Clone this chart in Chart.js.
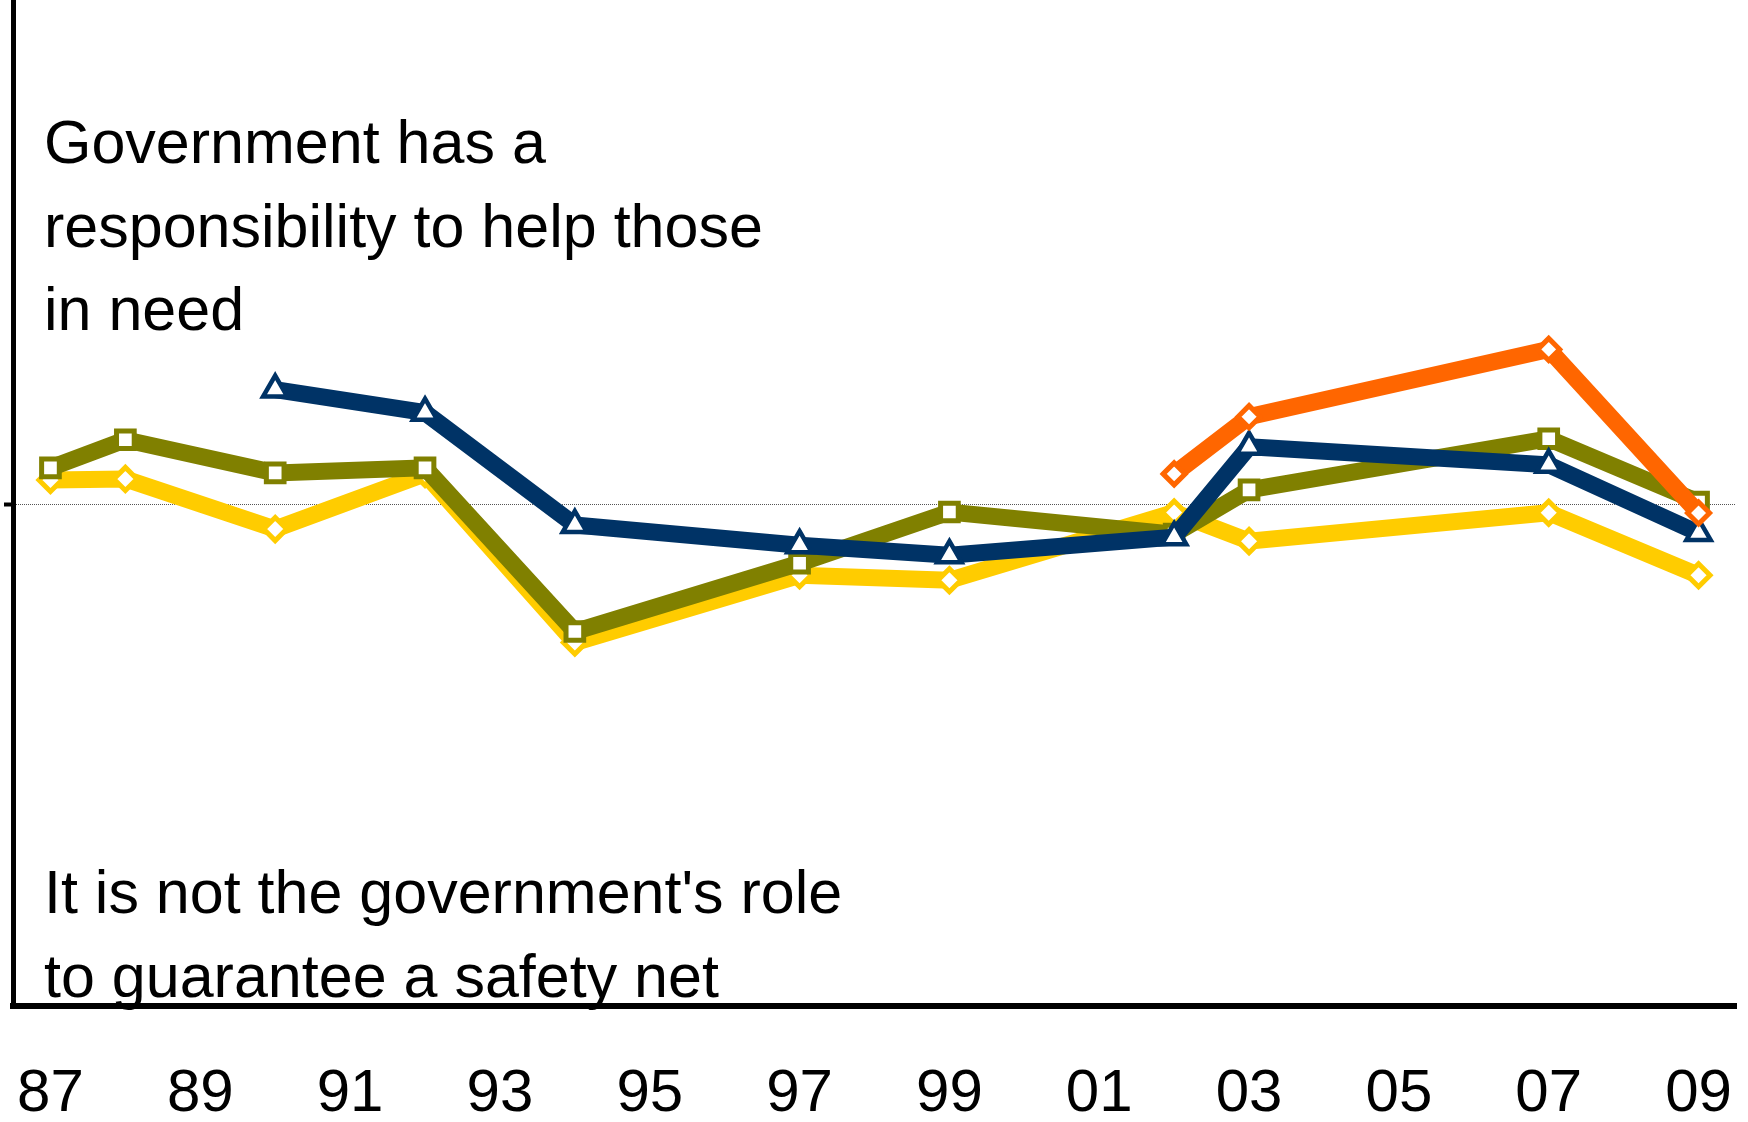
<!DOCTYPE html>
<html>
<head>
<meta charset="utf-8">
<script src="https://cdn.jsdelivr.net/npm/chart.js@4.4.1/dist/chart.umd.min.js"></script>
<style>
  html, body { margin: 0; padding: 0; background: #ffffff; }
  #wrap { width: 1748px; height: 1122px; }
</style>
</head>
<body>
<div id="wrap"><canvas id="chart" width="1748" height="1122"></canvas></div>
<script>
// Survey years and readings (index relative to the neutral midline at 0)
const yearsMain   = [1987, 1988, 1990, 1992, 1994, 1997, 1999, 2002, 2003, 2007, 2009];
const yellowVals  = [2.4, 2.5, -2.5, 3.0, -13.8, -7.1, -7.6, -0.85, -3.7, -0.87, -7.1];
const oliveVals   = [3.6, 6.4, 3.1, 3.6, -12.7, -5.9, -0.8, -3.0, 1.4, 6.5, 0.2];

const yearsNavy   = [1990, 1992, 1994, 1997, 1999, 2002, 2003, 2007, 2009];
const navyVals    = [11.4, 9.1, -2.1, -4.1, -5.1, -3.3, 5.7, 3.9, -2.9];

const yearsOrange = [2002, 2003, 2007, 2009];
const orangeVals  = [3.0, 8.7, 15.4, -0.9];

// Axis ticks
const tickYears  = [1987, 1989, 1991, 1993, 1995, 1997, 1999, 2001, 2003, 2005, 2007, 2009];
const tickLabels = ['87', '89', '91', '93', '95', '97', '99', '01', '03', '05', '07', '09'];

// Statement labels at the two ends of the scale
const topStatement    = ['Government has a', 'responsibility to help those', 'in need'];
const bottomStatement = ["It is not the government's role", 'to guarantee a safety net'];

const FONT = '"Liberation Sans", Arial, Helvetica, sans-serif';

function pts(xs, ys) { return xs.map((x, i) => ({ x: x, y: ys[i] })); }

function series(label, xs, ys, color, style, radius, markerBorder) {
  return {
    label: label,
    data: pts(xs, ys),
    borderColor: color,
    backgroundColor: color,
    borderWidth: 17,
    borderJoinStyle: 'miter',
    tension: 0,
    pointStyle: style,
    pointRadius: radius,
    pointBackgroundColor: '#ffffff',
    pointBorderColor: color,
    pointBorderWidth: markerBorder,
    fill: false
  };
}

// Draws the two statement blocks inside the plot
const statementText = {
  id: 'statementText',
  beforeDatasetsDraw(chart) {
    const ctx = chart.ctx;
    ctx.save();
    ctx.fillStyle = '#000000';
    ctx.font = '61px ' + FONT;
    ctx.textAlign = 'left';
    ctx.textBaseline = 'alphabetic';
    const x = 44;
    topStatement.forEach((t, i) => ctx.fillText(t, x, 163 + i * 83.5));
    bottomStatement.forEach((t, i) => ctx.fillText(t, x, 913 + i * 84));
    ctx.restore();
  }
};

new Chart(document.getElementById('chart'), {
  type: 'line',
  data: {
    datasets: [
      series('Orange', yearsOrange, orangeVals, '#FF6600', 'rectRot', 11, 5),
      series('Navy', yearsNavy, navyVals, '#003366', 'triangle', 14, 4.5),
      series('Olive', yearsMain, oliveVals, '#808000', 'rect', 12.5, 5),
      series('Yellow', yearsMain, yellowVals, '#FFCC00', 'rectRot', 11.5, 5)
    ]
  },
  options: {
    responsive: false,
    devicePixelRatio: 1,
    animation: false,
    layout: { autoPadding: false, padding: { left: 0, right: 12, top: 2, bottom: 0 } },
    plugins: {
      legend: { display: false },
      tooltip: { enabled: false },
      title: { display: false }
    },
    scales: {
      x: {
        type: 'linear',
        position: 'bottom',
        min: 1986.5,
        max: 2009.5,
        afterBuildTicks(scale) {
          scale.ticks = tickYears.map(v => ({ value: v }));
        },
        afterFit(scale) {
          scale.height = 116;
          scale.paddingLeft = 0;
          scale.paddingRight = 0;
        },
        ticks: {
          autoSkip: false,
          maxRotation: 0,
          padding: 52,
          color: '#000000',
          font: { family: FONT, size: 60 },
          callback(value) {
            const i = tickYears.indexOf(value);
            return i >= 0 ? tickLabels[i] : '';
          }
        },
        grid: { display: true, drawOnChartArea: false, drawTicks: false },
        border: { display: true, color: '#000000', width: 6 }
      },
      y: {
        type: 'linear',
        min: -50,
        max: 50,
        afterBuildTicks(scale) { scale.ticks = [{ value: 0 }]; },
        afterFit(scale) {
          scale.width = 13;
          scale.paddingTop = 0;
          scale.paddingBottom = 0;
        },
        ticks: { display: false },
        grid: {
          display: true,
          drawOnChartArea: true,
          drawTicks: true,
          tickLength: 9,
          color: '#555555',
          lineWidth: 1,
          tickColor: '#000000',
          tickWidth: 4
        },
        border: { display: true, color: '#000000', width: 5, dash: [1, 1] }
      }
    }
  },
  plugins: [statementText]
});
</script>
</body>
</html>
